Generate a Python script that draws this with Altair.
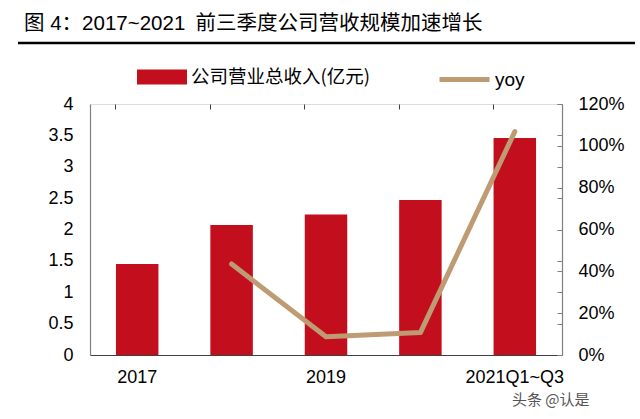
import altair as alt
import pandas as pd

categories = ["2017", "2018", "2019", "2020", "2021Q1~Q3"]
revenue = [1.45, 2.07, 2.24, 2.47, 3.46]
yoy_cats = ["2018", "2019", "2020", "2021Q1~Q3"]
yoy = [0.435, 0.087, 0.107, 1.068]
left_ticks = [0, 0.5, 1, 1.5, 2, 2.5, 3, 3.5, 4]
right_ticks = [0, 0.2, 0.4, 0.6, 0.8, 1.0, 1.2]
bar_name = "公司营业总收入(亿元)"
line_name = "yoy"
title_text = "图 4：2017~2021\u2002前三季度公司营收规模加速增长"
watermark = "头条 @认是"

RED = "#C20E1D"
TAN = "#BF9B73"
AXC = "#7f7f7f"
FONT = "Liberation Sans, Noto Sans CJK SC"

bars_df = pd.DataFrame({"cat": categories, "rev": revenue, "s": bar_name})
line_df = pd.DataFrame({"cat": yoy_cats, "yoy": yoy, "s": line_name})

xscale = alt.Scale(domain=categories, paddingInner=0.55, paddingOuter=0.275)
lscale = alt.Scale(domain=[0, 4], nice=False)
rscale = alt.Scale(domain=[0, 1.2], nice=False)

x_main = alt.X("cat:N", scale=xscale, sort=categories, title=None,
               axis=alt.Axis(labelAngle=0, ticks=False, domainColor="#404040", domainWidth=1.2,
                             labelFontSize=18, labelFont=FONT, labelColor="#000", labelPadding=13,
                             labelExpr="(datum.value == '2018' || datum.value == '2020') ? '' : datum.value"))

bars = alt.Chart(bars_df).mark_bar(color=RED).encode(
    x=x_main,
    y=alt.Y("rev:Q", scale=lscale, title=None,
            axis=alt.Axis(values=left_ticks, ticks=False, grid=False, domainColor=AXC, domainWidth=1.2,
                          labelFontSize=18, labelFont=FONT, labelColor="#000", labelPadding=17,
                          labelExpr="'' + datum.value")),
    fill=alt.Fill("s:N", scale=alt.Scale(domain=[bar_name], range=[RED]),
                  legend=alt.Legend(title=None, orient="none", legendX=47, legendY=-52, direction="horizontal",
                                    symbolType="M-1,-0.3H1V0.3H-1Z", symbolSize=2500, symbolStrokeWidth=0,
                                    labelFontSize=18.5, labelFont="Noto Sans CJK SC", labelColor="#000",
                                    labelOffset=4, labelLimit=400, padding=0)),
)

bar_ticks = alt.Chart(bars_df).mark_bar(opacity=0).encode(
    x=alt.X("cat:N", scale=xscale, sort=categories, title=None,
            axis=alt.Axis(labels=False, domain=False, ticks=True, tickSize=5, offset=-5, bandPosition=0,
                          tickColor="#404040", grid=False)),
    y=alt.Y("rev:Q", scale=lscale, title=None,
            axis=alt.Axis(values=left_ticks, labels=False, domain=False, ticks=True, tickSize=5, offset=-5,
                          tickColor=AXC, grid=False)),
)

line = alt.Chart(line_df).mark_line(color=TAN, strokeWidth=5, strokeCap="round", strokeJoin="round").encode(
    x=alt.X("cat:N", scale=xscale, sort=categories, axis=None),
    y=alt.Y("yoy:Q", scale=rscale, title=None,
            axis=alt.Axis(orient="right", values=right_ticks, format=".0%", ticks=False, grid=False,
                          domainColor=AXC, domainWidth=1.2, labelFontSize=18, labelFont=FONT,
                          labelColor="#000", labelPadding=16)),
    stroke=alt.Stroke("s:N", scale=alt.Scale(domain=[line_name], range=[TAN]),
                      legend=alt.Legend(title=None, orient="none", legendX=347, legendY=-52, direction="horizontal",
                                        symbolType="stroke", symbolSize=2500, symbolStrokeWidth=5,
                                        labelFontSize=19, labelFont=FONT, labelColor="#000",
                                        labelOffset=3, labelLimit=200, padding=0)),
)

line_ticks = alt.Chart(line_df).mark_line(opacity=0).encode(
    x=alt.X("cat:N", scale=xscale, sort=categories, axis=None),
    y=alt.Y("yoy:Q", scale=rscale, title=None,
            axis=alt.Axis(orient="right", values=right_ticks, labels=False, domain=False, ticks=True,
                          tickSize=5, offset=-5, tickColor=AXC, grid=False)),
)

title = alt.Chart(pd.DataFrame({"t": [title_text]})).mark_text(
    align="left", baseline="middle", fontSize=20.5, font=FONT, color="#000"
).encode(text="t:N", x=alt.value(-66), y=alt.value(-80))

underline = alt.Chart(pd.DataFrame({"t": [0]})).mark_rule(color="#000", strokeWidth=2.5).encode(
    x=alt.value(-72), x2=alt.value(545), y=alt.value(-61))

wm = alt.Chart(pd.DataFrame({"t": [watermark]})).mark_text(
    align="left", baseline="middle", fontSize=15, font="Noto Sans CJK SC", color="#555"
).encode(text="t:N", x=alt.value(422), y=alt.value(45 + 251))

chart = alt.layer(bars, bar_ticks, line, line_ticks, title, underline, wm).resolve_scale(
    y="independent"
).resolve_axis(x="independent", y="independent").properties(
    width=472, height=251,
    autosize=alt.AutoSizeParams(type="none"),
    padding={"left": 90, "top": 104, "right": 78, "bottom": 64},
).configure_view(stroke=None).configure(background="white")

chart.save("out.html", embed_options={"renderer": "svg", "actions": False})
